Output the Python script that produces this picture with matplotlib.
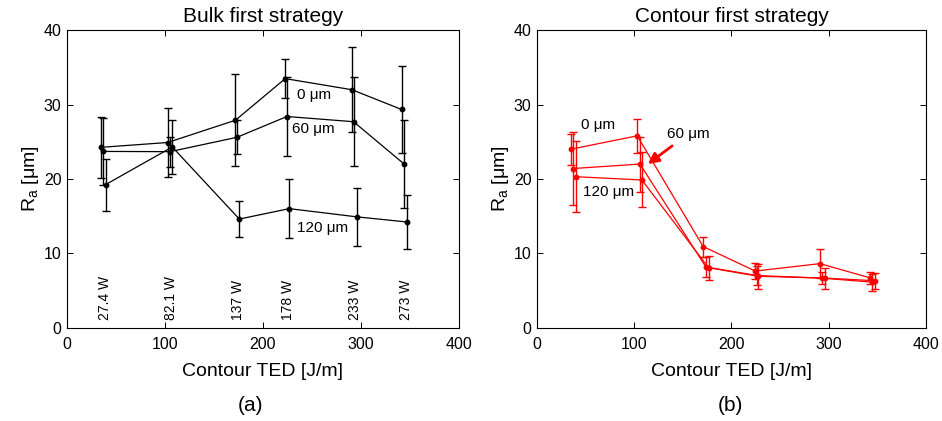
"""
Surface roughness Ra vs contour TED for bulk-first and contour-first strategies.

Outputs: out.png
"""

import matplotlib
matplotlib.use("Agg")
import matplotlib.pyplot as plt

plt.rcParams["font.family"] = "Liberation Sans"
plt.rcParams["mathtext.fontset"] = "custom"
plt.rcParams["mathtext.rm"] = "Liberation Sans"
plt.rcParams["mathtext.it"] = "Liberation Sans:italic"

# ── Bulk first strategy (a) ─────────────────────────────────────────────
ted_bulk_0 = [34.4, 102.7, 172.0, 222.8, 291.0, 341.5]
ra_bulk_0 = [24.25, 24.9, 27.9, 33.5, 32.0, 29.35]
err_bulk_0 = [4.1, 4.6, 6.2, 2.6, 5.7, 5.9]

ted_bulk_60 = [37.0, 105.1, 173.5, 224.5, 292.5, 344.2]
ra_bulk_60 = [23.7, 23.67, 25.6, 28.4, 27.7, 22.0]
err_bulk_60 = [4.5, 2.0, 2.3, 5.3, 6.0, 5.9]

ted_bulk_120 = [39.5, 107.5, 175.9, 226.9, 295.6, 347.3]
ra_bulk_120 = [19.24, 24.3, 14.6, 16.0, 14.9, 14.2]
err_bulk_120 = [3.5, 3.6, 2.4, 4.0, 3.9, 3.65]

power_labels = ["27.4 W", "82.1 W", "137 W", "178 W", "233 W", "273 W"]

# ── Contour first strategy (b) ──────────────────────────────────────────
ted_cont_0 = [34.9, 103.1, 170.9, 224.5, 290.9, 342.2]
ra_cont_0 = [24.0, 25.8, 10.9, 7.6, 8.6, 6.7]
err_cont_0 = [2.1, 2.3, 1.35, 1.1, 2.0, 0.8]

ted_cont_60 = [37.3, 105.9, 173.7, 226.4, 293.2, 345.0]
ra_cont_60 = [21.4, 22.0, 8.15, 7.0, 6.65, 6.1]
err_cont_60 = [4.9, 3.7, 1.3, 1.3, 0.85, 1.15]

ted_cont_120 = [39.8, 107.9, 176.4, 227.5, 296.0, 347.4]
ra_cont_120 = [20.3, 19.86, 8.05, 6.9, 6.65, 6.3]
err_cont_120 = [4.75, 3.7, 1.6, 1.7, 1.4, 1.05]

MU = "\u03bcm"


def style_axes(ax, title):
    ax.set_xlim(0, 400)
    ax.set_ylim(0, 40)
    ax.set_xticks([0, 100, 200, 300, 400])
    ax.set_yticks([0, 10, 20, 30, 40])
    ax.tick_params(direction="in", length=4, width=0.7, labelsize=11.5,
                   top=True, right=True, pad=4)
    ax.tick_params(axis="x", pad=7)
    for sp in ax.spines.values():
        sp.set_linewidth(0.8)
    ax.set_title(title, fontsize=15, pad=6)
    ax.set_xlabel("Contour TED [J/m]", fontsize=14, labelpad=8)
    ax.set_ylabel(r"R$_\mathrm{a}$ [" + MU + "]", fontsize=14, labelpad=2)


def draw_series(ax, x, y, err, color):
    ax.errorbar(x, y, yerr=err, color=color, marker="o", markersize=3.2,
                linewidth=0.9, elinewidth=1.0, capsize=3, capthick=1.0)


fig = plt.figure(figsize=(9.42, 4.21), dpi=100)
ax1 = fig.add_axes([0.0711, 0.222, 0.416, 0.706])
ax2 = fig.add_axes([0.570, 0.222, 0.413, 0.706])

# (a) bulk first
for x, y, e in [(ted_bulk_0, ra_bulk_0, err_bulk_0),
                (ted_bulk_60, ra_bulk_60, err_bulk_60),
                (ted_bulk_120, ra_bulk_120, err_bulk_120)]:
    draw_series(ax1, x, y, e, "black")

for xi, lab in zip(ted_bulk_60, power_labels):
    ax1.text(xi + 1.5, 1.0, lab, rotation=90, ha="center", va="bottom",
             fontsize=10)

ax1.text(235, 31.3, "0 " + MU, fontsize=11, va="center")
ax1.text(230, 26.7, "60 " + MU, fontsize=11, va="center")
ax1.text(235, 13.4, "120 " + MU, fontsize=11, va="center")
style_axes(ax1, "Bulk first strategy")

# (b) contour first
for x, y, e in [(ted_cont_0, ra_cont_0, err_cont_0),
                (ted_cont_60, ra_cont_60, err_cont_60),
                (ted_cont_120, ra_cont_120, err_cont_120)]:
    draw_series(ax2, x, y, e, "red")

ax2.text(45, 27.3, "0 " + MU, fontsize=11, va="center")
ax2.text(47.5, 18.2, "120 " + MU, fontsize=11, va="center")
ax2.annotate("60 " + MU, xy=(114, 22.0), xytext=(134, 26.1), fontsize=11,
             va="center", ha="left",
             arrowprops=dict(arrowstyle="-|>", color="red", lw=2.0,
                             mutation_scale=16, shrinkA=3, shrinkB=0))
style_axes(ax2, "Contour first strategy")

fig.text(0.266, 0.038, "(a)", ha="center", va="center", fontsize=15)
fig.text(0.775, 0.038, "(b)", ha="center", va="center", fontsize=15)

fig.savefig("out.png", dpi=100)
